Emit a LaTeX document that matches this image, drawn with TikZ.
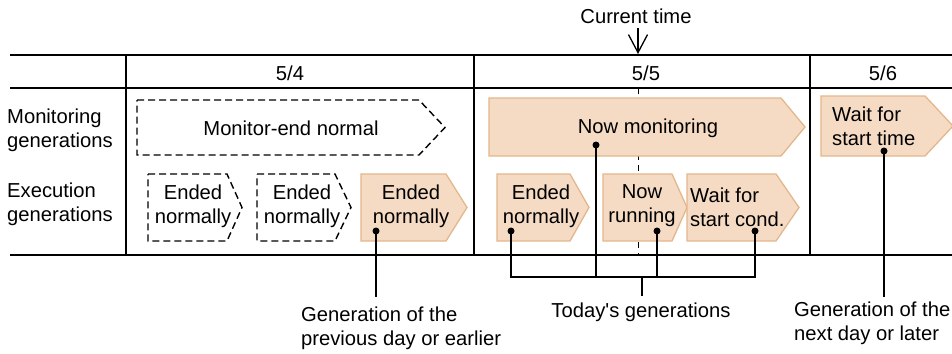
\documentclass[tikz,border=0pt]{standalone}
\usepackage{fontspec}
\setmainfont{Liberation Sans}
\usetikzlibrary{arrows.meta}
\definecolor{peach}{HTML}{F6DBC4}
\definecolor{peachline}{HTML}{E3B78C}
\newcommand\genshape[6]{% style, left, top, flat, tip, bottom
  \path[#1] (#2,#3) -- (#4,#3) -- (#5,{(#3+#6)/2}) -- (#4,#6) -- (#2,#6) -- cycle;}
\begin{document}
\begin{tikzpicture}[x=1pt,y=-1pt,
  every node/.style={font=\fontsize{20.2}{24}\selectfont, inner sep=0pt},
  grid/.style={line width=1.5pt, black},
  donegen/.style={draw=black, line width=1.4pt, dash pattern=on 7pt off 4pt},
  livegen/.style={fill=peach, draw=peachline, line width=1.3pt},
  conn/.style={line width=1.5pt, black},
  dot/.style={circle, fill=black, minimum size=7pt, inner sep=0pt}]
\useasboundingbox (0,0) rectangle (952,353);
% current time marker
\draw[line width=1pt, dash pattern=on 6pt off 5pt] (638,88) -- (638,255);
\node (cur) at (636,16) {Current time};
\coordinate (curtip) at (638,54);
\draw[line width=1.3pt, -{Straight Barb[length=18pt,width=19pt,line width=1.3pt]}] (cur.south -| curtip) ++(0,4) -- (curtip);
% grid
\draw[grid] (10,55) -- (952,55);
\draw[grid] (10,88) -- (952,88);
\draw[grid] (10,255) -- (952,255);
\draw[grid] (126,55) -- (126,255);
\draw[grid] (474,55) -- (474,255);
\draw[grid] (810,55) -- (810,255);
% headers
\node (d4) at (290,73) {5/4};
\node (d5) at (646,73) {5/5};
\node (d6) at (883,73) {5/6};
\node[anchor=west, align=left] (rmon) at (7,130) {Monitoring\\generations};
\node[anchor=west, align=left] (rexe) at (7,204) {Execution\\generations};
% monitoring generations
\genshape{donegen}{137}{100}{419}{445}{155}
\node (m1) at (291,128) {Monitor-end normal};
\genshape{livegen}{489}{98}{781}{805}{156}
\node (m2) at (648,128) {Now monitoring};
\genshape{livegen}{821}{96}{925}{953}{156}
\node[anchor=west, align=left] (m3) at (832,126) {Wait for\\start time};
% execution generations
\genshape{donegen}{148}{174}{227}{242}{241}
\node[align=center] (e1) at (193,206) {Ended\\normally};
\genshape{donegen}{257}{174}{335}{351}{241}
\node[align=center] (e2) at (302,206) {Ended\\normally};
\genshape{livegen}{361}{174}{446}{467}{241}
\node[align=center] (e3) at (411,206) {Ended\\normally};
\genshape{livegen}{497}{174}{570}{589}{241}
\node[align=center] (e4) at (541,206) {Ended\\normally};
\genshape{livegen}{603}{174}{672}{687}{241}
\node[align=center] (e5) at (642,206) {Now\\running};
\genshape{livegen}{687}{174}{776}{799}{241}
\node[anchor=west, align=left] (e6) at (690,207) {Wait for\\start cond.};
% dots
\node[dot] (p3) at (376,231) {};
\node[dot] (p4) at (511,231) {};
\node[dot] (p5) at (657,231) {};
\node[dot] (p6) at (755,231) {};
\node[dot] (pm) at (596,145) {};
\node[dot] (pn) at (884,151) {};
% connectors
\coordinate (b4) at (511,277);
\coordinate (b5) at (657,277);
\coordinate (b6) at (755,277);
\coordinate (bm) at (596,277);
\coordinate (bs) at (642,277);
\coordinate (bt) at (642,296);
\coordinate (q3) at (376,297);
\coordinate (qn) at (884,297);
\draw[conn] (p3.center) -- (q3);
\draw[conn] (pn.center) -- (qn);
\draw[conn] (p4.center) -- (b4) -- (b6) -- (p6.center);
\draw[conn] (p5.center) -- (b5);
\draw[conn] (pm.center) -- (bm);
\draw[conn] (bs) -- (bt);
% captions
\node[anchor=west, align=left] (c1) at (301,328) {Generation of the\\previous day or earlier};
\node (c2) at (641,312) {Today\textquotesingle s generations};
\node[anchor=west, align=left] (c3) at (794,323) {Generation of the\\next day or later};
\end{tikzpicture}
\end{document}
